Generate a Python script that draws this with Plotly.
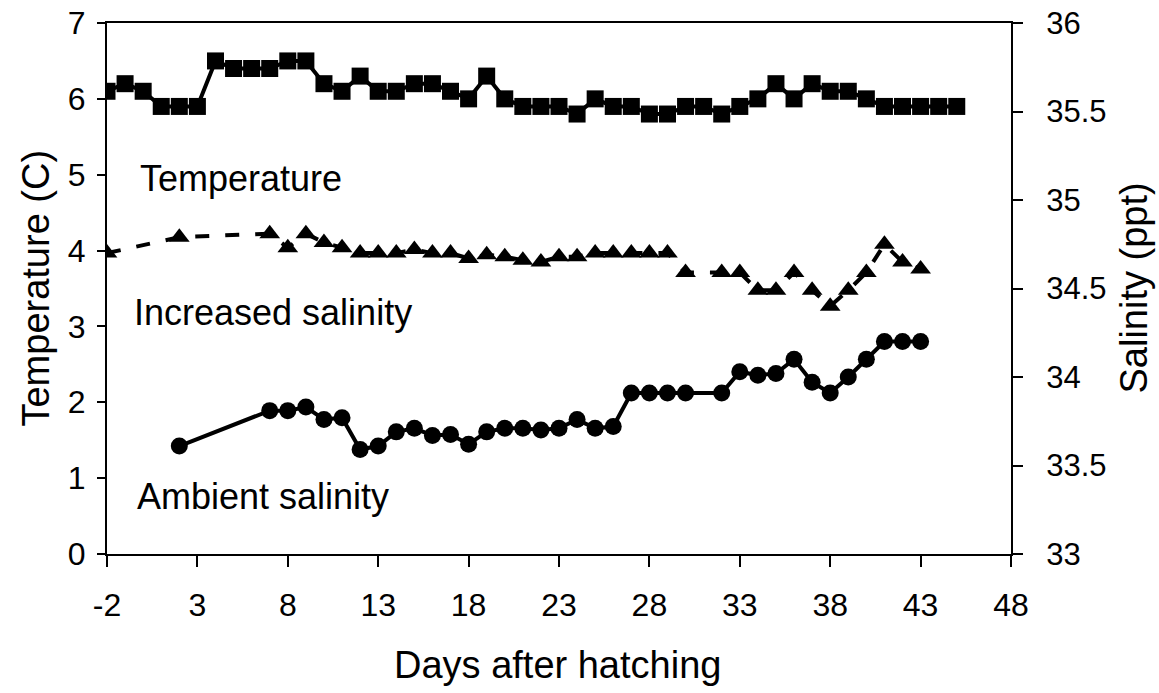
import plotly.graph_objects as go

# Temperature (left axis), daily from day -2 to 45
temp_days = list(range(-2, 46))
temp_vals = [6.1, 6.2, 6.1, 5.9, 5.9, 5.9, 6.5, 6.4, 6.4, 6.4,
             6.5, 6.5, 6.2, 6.1, 6.3, 6.1, 6.1, 6.2, 6.2, 6.1,
             6.0, 6.3, 6.0, 5.9, 5.9, 5.9, 5.8, 6.0, 5.9, 5.9,
             5.8, 5.8, 5.9, 5.9, 5.8, 5.9, 6.0, 6.2, 6.0, 6.2,
             6.1, 6.1, 6.0, 5.9, 5.9, 5.9, 5.9, 5.9]

# Increased salinity (right axis)
inc_days = [-2, 2, 7, 8, 9, 10, 11, 12, 13, 14, 15, 16, 17, 18, 19, 20, 21, 22,
            23, 24, 25, 26, 27, 28, 29, 30, 32, 33, 34, 35, 36, 37, 38, 39, 40,
            41, 42, 43]
inc_vals = [34.70, 34.79, 34.81, 34.73, 34.81, 34.76, 34.73, 34.70, 34.70, 34.70,
            34.72, 34.70, 34.70, 34.67, 34.69, 34.68, 34.66, 34.65, 34.68, 34.68,
            34.70, 34.70, 34.70, 34.70, 34.70, 34.59, 34.59, 34.59, 34.49, 34.49,
            34.59, 34.49, 34.40, 34.49, 34.59, 34.75, 34.65, 34.61]

# Ambient salinity (right axis)
amb_days = [2, 7, 8, 9, 10, 11, 12, 13, 14, 15, 16, 17, 18, 19, 20, 21, 22, 23,
            24, 25, 26, 27, 28, 29, 30, 32, 33, 34, 35, 36, 37, 38, 39, 40, 41,
            42, 43]
amb_vals = [33.61, 33.81, 33.81, 33.83, 33.76, 33.77, 33.59, 33.61, 33.69, 33.71,
            33.67, 33.675, 33.62, 33.69, 33.71, 33.71, 33.70, 33.71, 33.76, 33.71,
            33.72, 33.91, 33.91, 33.91, 33.91, 33.91, 34.03, 34.01, 34.02, 34.10,
            33.97, 33.91, 34.00, 34.10, 34.20, 34.20, 34.20]

# Tick labels
x_tickvals = [-2, 3, 8, 13, 18, 23, 28, 33, 38, 43, 48]
x_ticktext = ["-2", "3", "8", "13", "18", "23", "28", "33", "38", "43", "48"]

FONT = "Liberation Sans, Arial, sans-serif"

fig = go.Figure()
fig.add_trace(go.Scatter(x=temp_days, y=temp_vals, mode="lines+markers",
                         name="Temperature",
                         line=dict(color="black", width=4),
                         marker=dict(symbol="square", size=17, color="black")))
fig.add_trace(go.Scatter(x=inc_days, y=inc_vals, mode="lines+markers",
                         name="Increased salinity", yaxis="y2",
                         line=dict(color="black", width=4, dash="14px,16px"),
                         marker=dict(symbol="triangle-up", size=18, color="black")))
fig.add_trace(go.Scatter(x=amb_days, y=amb_vals, mode="lines+markers",
                         name="Ambient salinity", yaxis="y2",
                         line=dict(color="black", width=4),
                         marker=dict(symbol="circle", size=17, color="black")))

ann_font = dict(family=FONT, size=36, color="black")
fig.add_annotation(x=-0.3, y=4.95, xref="x", yref="y", text="Temperature",
                   showarrow=False, xanchor="left", yanchor="middle", font=ann_font)
fig.add_annotation(x=-0.6, y=3.18, xref="x", yref="y", text="Increased salinity",
                   showarrow=False, xanchor="left", yanchor="middle", font=ann_font)
fig.add_annotation(x=-0.45, y=0.76, xref="x", yref="y", text="Ambient salinity",
                   showarrow=False, xanchor="left", yanchor="middle", font=ann_font)

title_font = dict(family=FONT, size=38, color="black")
fig.add_annotation(x=-0.0796, y=0.5, xref="paper", yref="paper",
                   text="Temperature (C)", textangle=-90, showarrow=False,
                   xanchor="center", yanchor="middle", font=title_font)
fig.add_annotation(x=1.135, y=0.5, xref="paper", yref="paper",
                   text="Salinity (ppt)", textangle=-90, showarrow=False,
                   xanchor="center", yanchor="middle", font=title_font)
fig.add_annotation(x=0.498, y=-0.209, xref="paper", yref="paper",
                   text="Days after hatching", showarrow=False,
                   xanchor="center", yanchor="middle", font=title_font)

fig.update_layout(
    width=1159, height=693,
    margin=dict(l=107, r=148, t=23, b=139),
    plot_bgcolor="white", paper_bgcolor="white",
    showlegend=False,
    font=dict(family=FONT, color="black"),
    xaxis=dict(range=[-2, 48], tickvals=x_tickvals, ticktext=x_ticktext,
               showgrid=False, zeroline=False, automargin=False,
               showline=True, linecolor="black", linewidth=2, mirror=True,
               ticks="outside", ticklen=11, tickwidth=2, tickcolor="black",
               ticklabelstandoff=11, ticklabeloverflow="allow",
               tickfont=dict(size=32, family=FONT)),
    yaxis=dict(range=[0, 7], dtick=1, showgrid=False, zeroline=False,
               automargin=False,
               showline=True, linecolor="black", linewidth=2,
               ticks="outside", ticklen=8, tickwidth=2, tickcolor="black",
               ticklabelstandoff=5, ticklabeloverflow="allow",
               tickfont=dict(size=32, family=FONT)),
    yaxis2=dict(range=[33, 36], dtick=0.5, overlaying="y", side="right",
                showgrid=False, zeroline=False, automargin=False,
                showline=True, linecolor="black", linewidth=2,
                ticks="outside", ticklen=10, tickwidth=2, tickcolor="black",
                ticklabelstandoff=17, ticklabeloverflow="allow",
                tickfont=dict(size=31, family=FONT)),
)

# Remove the browser's default 8px body margin so the figure fills the window
fig.write_html("out.html", config={"displayModeBar": False},
               post_script="document.body.style.margin='0';")
